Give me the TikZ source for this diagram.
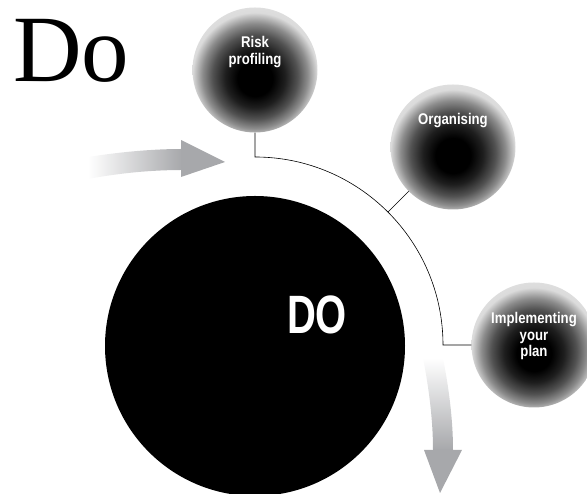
\documentclass[tikz,border=0pt]{standalone}
\usepackage{fontspec}
\setmainfont{Liberation Serif}
\newfontfamily\bubblefont[FakeStretch=0.85]{Liberation Sans}
\newfontfamily\dofont[FakeStretch=0.74]{Liberation Sans}
\usetikzlibrary{positioning,calc}
\definecolor{arrowgray}{RGB}{167,168,171}
\pgfdeclareradialshading{bubble}{\pgfpoint{0bp}{-4bp}}{color(0bp)=(black); color(7bp)=(black); color(12bp)=(black!88); color(17bp)=(black!68); color(21bp)=(black!45); color(24bp)=(black!22); color(25bp)=(black!14); color(50bp)=(white)}
\begin{document}
\begin{tikzpicture}[x=1pt,y=1pt,
        bubble/.style={circle,minimum size=125pt,inner sep=0pt,shading=bubble},
        bubbletext/.style={text=white,align=center,inner sep=0pt,font=\bubblefont\bfseries\fontsize{15.5}{16.5}\selectfont}]
        \useasboundingbox (0,0) rectangle (587,494);
        \node [anchor=base west,inner sep=0pt,font=\fontsize{95}{95}\selectfont] (title) at (13,412) {Do};
        % grey arrows
        \shade [left color=white,right color=arrowgray] (88,315) .. controls (120,321) and (152,324) .. (182,324) -- (182,345) .. controls (152,345) and (120,342) .. (88,337) -- cycle;
        \fill [arrowgray] (181,354) -- (225,332) -- (181,317) -- cycle;
        \shade [top color=white,bottom color=arrowgray] (423,136) .. controls (430,100) and (433,70) .. (433,44) -- (453,44) .. controls (453,70) and (450,100) .. (443,136) -- cycle;
        \fill [arrowgray] (424,44) -- (440,1) -- (462,44) -- cycle;
        % big circle
        \node [circle,fill=black,minimum size=300pt,inner sep=0pt] (do) at (255,148) {};
        \node [anchor=base,text=white,inner sep=0pt,font=\dofont\bfseries\fontsize{54}{54}\selectfont] (dolabel) at (317,160) {DO};
        % bubbles
        \node [bubble] (risk) at (255,424) {};
        \node [bubble] (org) at (453,347) {};
        \node [bubble] (imp) at (534,149) {};
        \node [bubbletext,below=29pt of risk.north] (risktext) {Risk\\profiling};
        \node [bubbletext,below=29pt of org.north] (orgtext) {Organising};
        \node [bubbletext,below=30pt of imp.north] (imptext) {Implementing\\your\\plan};
        % arc
        \coordinate (hub) at (255,149);
        \coordinate (arctop) at ($(hub)+(90:188)$);
        \coordinate (arcmid) at ($(hub)+(45:188)$);
        \draw [line width=0.6pt] (risk.south) -- (arctop) arc [start angle=90,end angle=0,radius=188] -- (imp.west);
        \draw [line width=0.6pt] (org.225) -- (arcmid);
    \end{tikzpicture}
\end{document}
